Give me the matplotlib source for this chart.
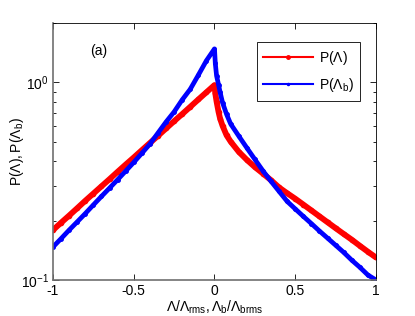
import matplotlib
matplotlib.use("Agg")
import matplotlib.pyplot as plt
from matplotlib.lines import Line2D
from matplotlib.ticker import FixedLocator, FixedFormatter, LogLocator, NullFormatter

plt.rcParams['font.family'] = ['Liberation Sans', 'DejaVu Sans']
plt.rcParams['mathtext.fontset'] = 'custom'
plt.rcParams['mathtext.rm'] = 'Liberation Sans'
plt.rcParams['mathtext.it'] = 'Liberation Sans'

# values (x = Lambda / Lambda_rms)
x_left = [-1.00, -0.95, -0.90, -0.85, -0.80, -0.75, -0.70, -0.65, -0.60, -0.55,
          -0.50, -0.45, -0.40, -0.35, -0.30, -0.25, -0.20, -0.15, -0.10, -0.05, 0.00]
p_lam_left = [0.179, 0.195, 0.212, 0.231, 0.252, 0.274, 0.298, 0.324, 0.353, 0.384,
              0.417, 0.454, 0.494, 0.537, 0.585, 0.637, 0.692, 0.753, 0.820, 0.892, 0.970]
p_lamb_left = [0.147, 0.162, 0.179, 0.197, 0.217, 0.240, 0.265, 0.292, 0.322, 0.356,
               0.394, 0.438, 0.488, 0.555, 0.631, 0.710, 0.817, 0.925, 1.090, 1.290, 1.480]

x_right = [0.00, 0.005, 0.013, 0.025, 0.035, 0.05, 0.075, 0.10, 0.15, 0.20, 0.25, 0.30,
           0.35, 0.40, 0.45, 0.50, 0.55, 0.60, 0.65, 0.70, 0.75, 0.80, 0.85,
           0.90, 0.95, 1.00]
p_lam_right = [0.970, 0.880, 0.800, 0.710, 0.655, 0.603, 0.540, 0.502, 0.446, 0.406, 0.373, 0.346,
               0.320, 0.294, 0.275, 0.258, 0.241, 0.225, 0.210, 0.196, 0.183, 0.171, 0.160,
               0.149, 0.139, 0.130]
p_lamb_right = [1.480, 1.250, 1.080, 0.975, 0.890, 0.790, 0.690, 0.617, 0.536, 0.467, 0.408, 0.357,
                0.316, 0.281, 0.250, 0.229, 0.210, 0.193, 0.177, 0.163, 0.150, 0.138, 0.126,
                0.116, 0.106, 0.100]

x_all = x_left + x_right[1:]
p_lam = p_lam_left + p_lam_right[1:]
p_lamb = p_lamb_left + p_lamb_right[1:]

fig = plt.figure(figsize=(4.15, 3.16), dpi=100)
ax = fig.add_axes([0.1277, 0.1139, 0.7783, 0.8133])

ax.semilogy(x_all, p_lam, color='#ff0000', lw=4.2, marker='.', ms=6,
            solid_joinstyle='round', solid_capstyle='round')
ax.semilogy(x_all, p_lamb, color='#0000ff', lw=3.4, marker='.', ms=5,
            solid_joinstyle='round', solid_capstyle='round')

ax.set_xlim(-1, 1)
ax.set_ylim(0.1, 2.0)

ax.xaxis.set_major_locator(FixedLocator([-1, -0.5, 0, 0.5, 1]))
ax.xaxis.set_major_formatter(FixedFormatter(['-1', '-0.5', '0', '0.5', '1']))
ax.yaxis.set_major_locator(FixedLocator([0.1, 1.0]))
ax.yaxis.set_major_formatter(FixedFormatter([r'$\mathregular{10^{-1}}$', r'$\mathregular{10^{0}}$']))
ax.yaxis.set_minor_locator(LogLocator(base=10, subs=range(2, 10)))
ax.yaxis.set_minor_formatter(NullFormatter())

ax.tick_params(which='both', direction='in', top=True, right=True, labelsize=10, pad=3)
ax.tick_params(which='major', length=4, width=0.6)
ax.tick_params(which='minor', length=2.2, width=0.6)

for side in ['left', 'bottom']:
    ax.spines[side].set_color('#707070')
    ax.spines[side].set_linewidth(1.2)
for side in ['top', 'right']:
    ax.spines[side].set_color('black')
    ax.spines[side].set_linewidth(0.6)

ax.set_xlabel(r'$\mathregular{Λ/Λ_{rms},Λ_b/Λ_{brms}}$', fontsize=10, labelpad=0)
ax.set_ylabel(r'$\mathregular{P(Λ),P(Λ_b)}$', fontsize=10)
ax.yaxis.set_label_coords(-0.085, 0.5)

ax.text(-0.72, 1.44, '(a)', fontsize=10, ha='center', va='center')

handles = [Line2D([], [], color='#ff0000', lw=1.5, marker='.', ms=5),
           Line2D([], [], color='#0000ff', lw=1.5, marker='.', ms=3)]
leg = ax.legend(handles, [r'$\mathregular{P(Λ)}$', r'$\mathregular{P(Λ_b)}$'],
                loc='upper right', bbox_to_anchor=(0.950, 0.925), borderaxespad=0,
                fontsize=10, fancybox=False, framealpha=1, handlelength=3.6,
                labelspacing=0.7, borderpad=0.45, handletextpad=0.4)
leg.get_frame().set_edgecolor('black')
leg.get_frame().set_linewidth(0.6)

fig.savefig('out.png', dpi=100)
